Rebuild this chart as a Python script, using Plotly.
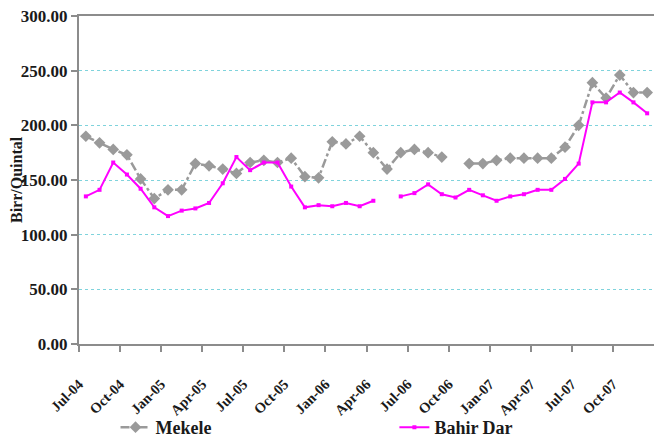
import plotly.graph_objects as go

# Monthly grain prices, Jul-04 .. Dec-07 (Birr per quintal)
months = [
    "Jul-04", "Aug-04", "Sep-04", "Oct-04", "Nov-04", "Dec-04",
    "Jan-05", "Feb-05", "Mar-05", "Apr-05", "May-05", "Jun-05",
    "Jul-05", "Aug-05", "Sep-05", "Oct-05", "Nov-05", "Dec-05",
    "Jan-06", "Feb-06", "Mar-06", "Apr-06", "May-06", "Jun-06",
    "Jul-06", "Aug-06", "Sep-06", "Oct-06", "Nov-06", "Dec-06",
    "Jan-07", "Feb-07", "Mar-07", "Apr-07", "May-07", "Jun-07",
    "Jul-07", "Aug-07", "Sep-07", "Oct-07", "Nov-07", "Dec-07",
]

mekele = [
    190, 184, 178, 173, 151, 133,
    141, 141, 165, 163, 160, 156,
    166, 168, 166, 170, 153, 152,
    185, 183, 190, 175, 160, 175,
    178, 175, 171, None, 165, 165,
    168, 170, 170, 170, 170, 180,
    200, 239, 225, 246, 230, 230,
]

bahir_dar = [
    135, 141, 166, 155, 142, 125,
    117, 122, 124, 129, 147, 171,
    159, 166, 166, 144, 125, 127,
    126, 129, 126, 131, None, 135,
    138, 146, 137, 134, 141, 136,
    131, 135, 137, 141, 141, 151,
    165, 221, 221, 230, 221, 211,
]

tick_labels = ["Jul-04", "Oct-04", "Jan-05", "Apr-05", "Jul-05", "Oct-05",
               "Jan-06", "Apr-06", "Jul-06", "Oct-06", "Jan-07", "Apr-07",
               "Jul-07", "Oct-07"]

x = list(range(len(months)))
# labels sit on the tick marks between categories
tick_pos = [months.index(m) - 0.5 for m in tick_labels]

serif = "Liberation Serif"
ink = "#1a1a1a"
axis_grey = "#8c8c8c"
legend_font = dict(size=18, family=serif, weight="bold", color=ink)

W, H = 654, 439
L, R, T, B = 79, 0, 16, 95
plot_w = W - L - R

fig = go.Figure()
fig.add_trace(go.Scatter(
    x=x, y=mekele, name="Mekele", mode="lines+markers",
    line=dict(color="#9a9a9a", width=2.5, dash="dashdot"),
    marker=dict(symbol="diamond", size=9, color="#9a9a9a"),
    customdata=months, legend="legend",
))
fig.add_trace(go.Scatter(
    x=x, y=bahir_dar, name="Bahir Dar", mode="lines+markers",
    line=dict(color="#ff00ff", width=2),
    marker=dict(symbol="square", size=4, color="#ff00ff"),
    customdata=months, legend="legend2",
))

# y-axis title, placed close to the tick labels
fig.add_annotation(
    text="Birr/Quintal", textangle=-90,
    xref="paper", yref="paper", x=-(L - 16) / plot_w, y=0.5,
    xanchor="center", yanchor="middle", showarrow=False,
    font=dict(size=16, family=serif, weight="bold", color=ink),
)

fig.update_layout(
    width=W, height=H,
    margin=dict(l=L, r=R, t=T, b=B, autoexpand=False),
    paper_bgcolor="white", plot_bgcolor="white",
    font=dict(family=serif, color=ink, size=15, weight="bold"),
    showlegend=True,
    legend=dict(x=0.0635, xanchor="left", y=-0.198, yanchor="top",
                font=legend_font, bgcolor="rgba(0,0,0,0)"),
    legend2=dict(x=0.5485, xanchor="left", y=-0.198, yanchor="top",
                 font=legend_font, bgcolor="rgba(0,0,0,0)"),
    xaxis=dict(
        range=[-0.5, len(months) - 0.5],
        tickmode="array", tickvals=tick_pos, ticktext=tick_labels,
        tickangle=-45, ticks="outside", ticklen=6, tickcolor=axis_grey, tickwidth=1.5,
        ticklabelstandoff=18,
        tickfont=dict(size=14.5, family=serif, weight="bold"),
        showline=True, linecolor=axis_grey, linewidth=2, mirror=True,
        showgrid=False, zeroline=False,
    ),
    yaxis=dict(
        range=[0, 300], tickmode="array", tickvals=[0, 50, 100, 150, 200, 250, 300],
        tickformat=".2f", ticks="outside", ticklen=6, tickcolor=axis_grey, tickwidth=1.5,
        tickfont=dict(size=17, family=serif, weight="bold"),
        showline=True, linecolor=axis_grey, linewidth=2,
        showgrid=True, gridcolor="#7fd3dc", griddash="dot", gridwidth=1.2,
        zeroline=False,
    ),
)

fig.write_html("out.html")
